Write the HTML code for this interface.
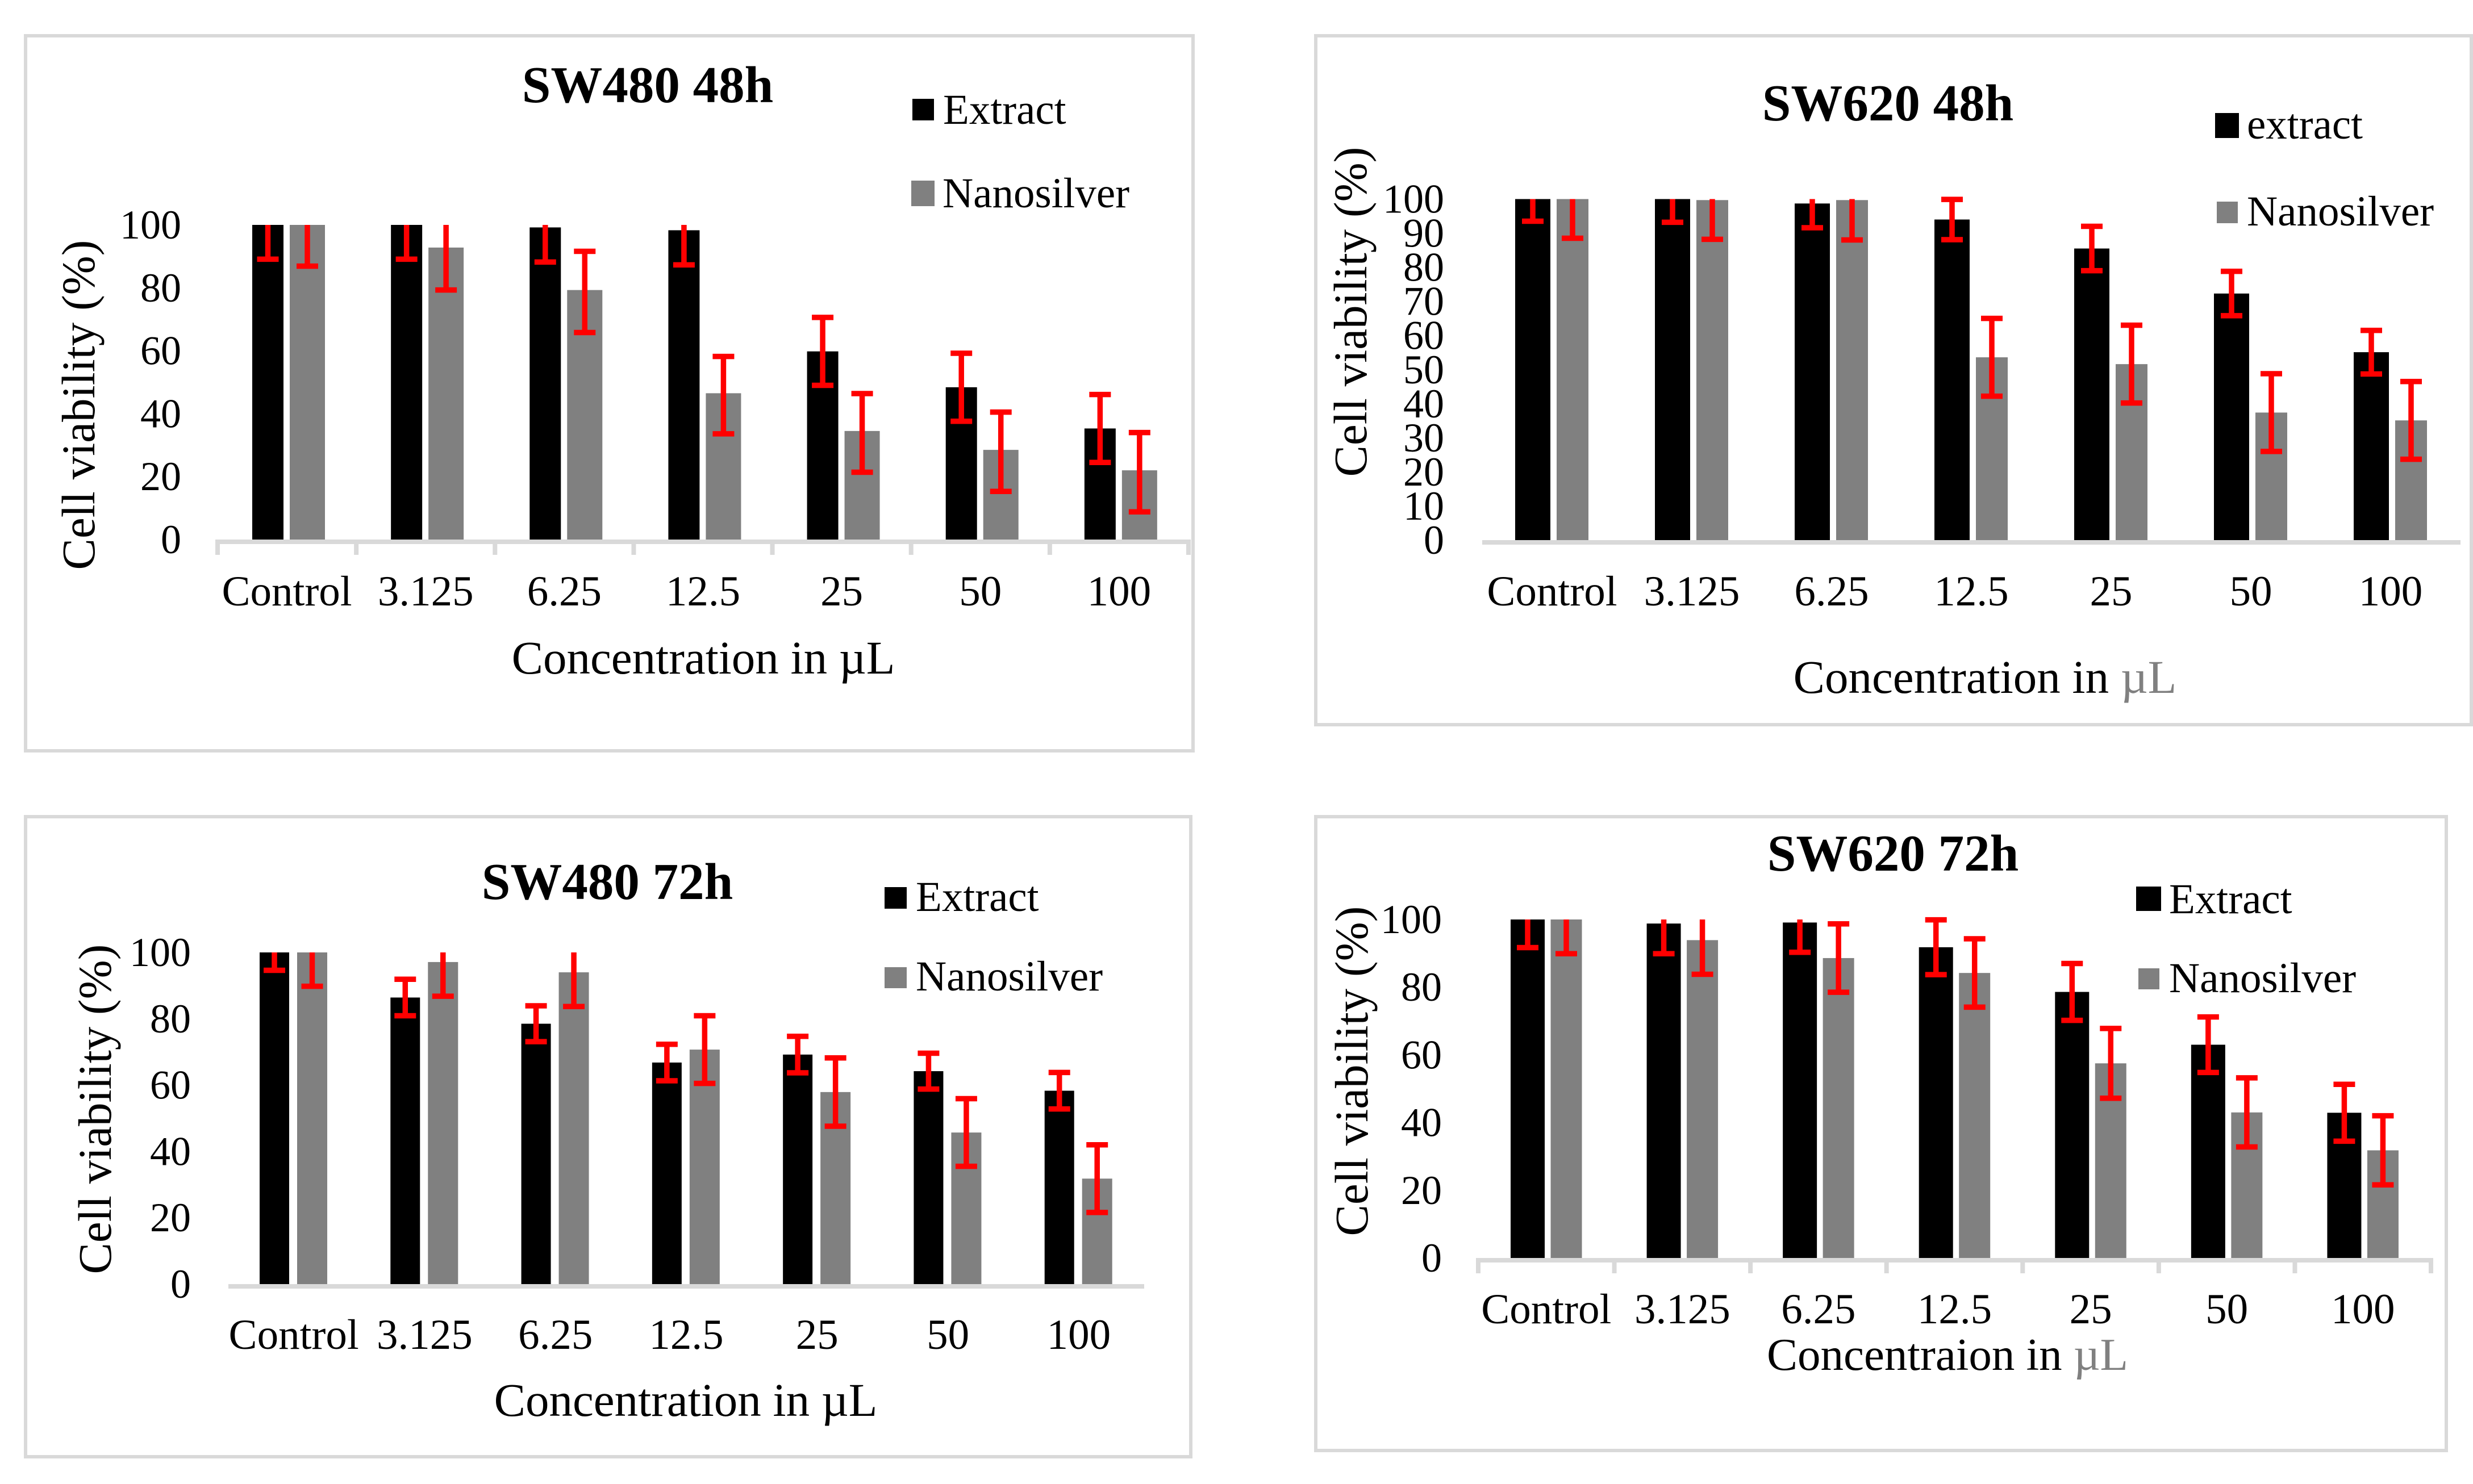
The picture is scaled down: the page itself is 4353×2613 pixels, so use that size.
<!DOCTYPE html>
<html lang="en">
<head>
<meta charset="utf-8">
<title>Cell viability charts</title>
<style>
html,body{margin:0;padding:0;background:#fff}
svg{display:block}
text{font-family:"Liberation Serif","Times New Roman",serif;fill:#000}
.title{font-size:91px;font-weight:bold;text-anchor:middle}
.legend{font-size:75px}
.axt{font-size:83px;text-anchor:middle}
.gr{fill:#808080}
.frame{fill:#fff;stroke:#d9d9d9;stroke-width:6}
</style>
</head>
<body>
<svg id="figure" xmlns="http://www.w3.org/2000/svg" width="4353" height="2613" viewBox="0 0 4353 2613">
<rect x="0" y="0" width="4353" height="2613" fill="#fff"/>

<g id="p1">
<rect class="frame" x="45" y="63" width="2055" height="1259"/>
<text class="title" x="1140" y="180">SW480 48h</text>
<rect x="1606" y="174" width="38" height="38" fill="#000"/>
<text class="legend" x="1660" y="218">Extract</text>
<rect x="1604" y="318" width="41" height="45" fill="#808080"/>
<text class="legend" x="1659" y="365">Nanosilver</text>
<text class="axt" x="1238" y="1186">Concentration in µL</text>
<text class="axt" transform="translate(166 713) rotate(-90)">Cell viability (%)</text>
</g>

<g id="p2">
<rect class="frame" x="2316" y="63" width="2034" height="1213"/>
<text class="title" x="3323" y="212">SW620 48h</text>
<rect x="3899" y="199" width="42" height="44" fill="#000"/>
<text class="legend" x="3955" y="244">extract</text>
<rect x="3902" y="355" width="37" height="38" fill="#808080"/>
<text class="legend" x="3955" y="397">Nanosilver</text>
<text class="axt" x="3494" y="1220">Concentration in <tspan class="gr">µL</tspan></text>
<text class="axt" transform="translate(2405 549) rotate(-90)">Cell viability (%)</text>
</g>

<g id="p3">
<rect class="frame" x="45" y="1438" width="2051" height="1127"/>
<text class="title" x="1069" y="1583">SW480 72h</text>
<rect x="1557" y="1562" width="39" height="38" fill="#000"/>
<text class="legend" x="1612" y="1604">Extract</text>
<rect x="1557" y="1703" width="39" height="37" fill="#808080"/>
<text class="legend" x="1612" y="1744">Nanosilver</text>
<text class="axt" x="1207" y="2493">Concentration in µL</text>
<text class="axt" transform="translate(195 1953) rotate(-90)">Cell viability (%)</text>
</g>

<g id="p4">
<rect class="frame" x="2316" y="1438" width="1990" height="1116"/>
<text class="title" x="3332" y="1533">SW620 72h</text>
<rect x="3760" y="1561" width="44" height="43" fill="#000"/>
<text class="legend" x="3818" y="1608">Extract</text>
<rect x="3764" y="1705" width="37" height="37" fill="#808080"/>
<text class="legend" x="3818" y="1747">Nanosilver</text>
<text class="axt" style="font-size:81px" x="3428" y="2412">Concentraion in <tspan class="gr">µL</tspan></text>
<text class="axt" transform="translate(2407 1886) rotate(-90)">Cell viability (%)</text>
</g>
</svg>

<script>
const categories = ["Control", "3.125", "6.25", "12.5", "25", "50", "100"];
const ticksBy20 = [0, 20, 40, 60, 80, 100];
const ticksBy10 = [0, 10, 20, 30, 40, 50, 60, 70, 80, 90, 100];
const axisMax = 100;

const sw480h48Extract = [100, 100, 99.2, 98.3, 59.8, 48.4, 35.3];
const sw480h48ExtractErr = [10.9, 10.9, 11, 11, 10.8, 10.8, 10.8];
const sw480h48Nano = [100, 92.8, 79.3, 46.5, 34.5, 28.5, 22];
const sw480h48NanoErr = [12.5, 12.9, 12.9, 12.3, 12.5, 12.6, 12.6];

const sw620h48Extract = [100, 100, 98.7, 94, 85.5, 72.3, 55.1];
const sw620h48ExtractErr = [6.5, 6.8, 7.1, 5.9, 6.5, 6.5, 6.4];
const sw620h48Nano = [100, 99.7, 99.7, 53.6, 51.6, 37.4, 35.1];
const sw620h48NanoErr = [11.5, 11.5, 11.7, 11.4, 11.4, 11.4, 11.4];

const sw480h72Extract = [100, 86.4, 78.5, 66.8, 69.2, 64.2, 58.3];
const sw480h72ExtractErr = [5.4, 5.5, 5.4, 5.5, 5.5, 5.4, 5.5];
const sw480h72Nano = [100, 97.1, 94, 70.7, 57.9, 45.7, 31.8];
const sw480h72NanoErr = [10.2, 10.3, 10.3, 10.2, 10.3, 10.2, 10.2];

const sw620h72Extract = [100, 98.8, 99.1, 91.8, 78.6, 63, 42.9];
const sw620h72ExtractErr = [8.3, 8.9, 8.8, 8.1, 8.4, 8.2, 8.4];
const sw620h72Nano = [100, 93.9, 88.6, 84.2, 57.5, 43, 31.8];
const sw620h72NanoErr = [10.1, 10.1, 10.1, 10.1, 10.3, 10.2, 10.2];

const NS = "http://www.w3.org/2000/svg";

function make(parent, tag, attrs, text) {
  const el = document.createElementNS(NS, tag);
  for (const k in attrs) el.setAttribute(k, attrs[k]);
  if (text !== undefined) el.textContent = text;
  parent.appendChild(el);
  return el;
}

function drawBars(g, values, off, width, color, xBand, yScale) {
  values.forEach(function (v, i) {
    const left = xBand(i) + off;
    const top = yScale(v);
    const bar = make(g, "rect", { x: left, y: top, width: width, height: yScale(0) - top, fill: color });
    
    
  });
}

function drawErrors(g, values, errors, shift, off, width, xBand, yScale) {
  values.forEach(function (v, i) {
    const cx = xBand(i) + off + width / 2;
    const hi = v + shift + errors[i];
    const lo = v + shift - errors[i];
    const stem = make(g, "line", { x1: cx, x2: cx, y1: yScale(Math.min(hi, axisMax)), y2: yScale(lo), stroke: "#ff0000", "stroke-width": 9.5 });
    
    
    const lowCap = make(g, "line", { x1: cx - 19, x2: cx + 19, y1: yScale(lo), y2: yScale(lo), stroke: "#ff0000", "stroke-width": 9.5 });
    
    
    if (hi <= axisMax) {
      const highCap = make(g, "line", { x1: cx - 19, x2: cx + 19, y1: yScale(hi), y2: yScale(hi), stroke: "#ff0000", "stroke-width": 9.5 });
      
      
    }
  });
}

function drawChart(cfg) {
  const g = document.getElementById(cfg.id);
  const band = (cfg.x1 - cfg.x0) / categories.length;
  const xBand = function (i) { return cfg.x0 + band * i; };
  const yScale = function (v) { return cfg.y0 - (cfg.y0 - cfg.y100) * v / axisMax; };

  const axis = make(g, "rect", { x: cfg.x0, y: cfg.y0, width: cfg.x1 - cfg.x0, height: 8, fill: "#d9d9d9" });
  
  

  if (cfg.tickMarks) {
    for (let i = 0; i <= categories.length; i++) {
      const t = make(g, "rect", { x: xBand(i) - 4, y: cfg.y0, width: 8, height: 27, fill: "#d9d9d9" });
      
      
    }
  }

  cfg.yTicks.forEach(function (v) {
    const lab = make(g, "text", { x: cfg.tickRight, y: yScale(v) + 24, "text-anchor": "end", "font-size": 72 }, String(v));
    
    
  });

  categories.forEach(function (c, i) {
    const lab = make(g, "text", { x: xBand(i) + band / 2, y: cfg.catBase, "text-anchor": "middle", "font-size": 75 }, c);
    
    
  });

  drawBars(g, cfg.extract, cfg.bOff, cfg.bW, "#000000", xBand, yScale);
  drawBars(g, cfg.nano, cfg.gOff, cfg.gW, "#808080", xBand, yScale);
  drawErrors(g, cfg.extract, cfg.extractErr, 0, cfg.bOff, cfg.bW, xBand, yScale);
  drawErrors(g, cfg.nano, cfg.nanoErr, cfg.nanoShift, cfg.gOff, cfg.gW, xBand, yScale);
}

drawChart({ id: "p1", extract: sw480h48Extract, extractErr: sw480h48ExtractErr, nano: sw480h48Nano, nanoErr: sw480h48NanoErr, nanoShift: -0.6, yTicks: ticksBy20,
  x0: 383, x1: 2092, y100: 396, y0: 950, bOff: 61, bW: 55, gOff: 127, gW: 62, tickRight: 319, tickMarks: true, catBase: 1066 });
drawChart({ id: "p2", extract: sw620h48Extract, extractErr: sw620h48ExtractErr, nano: sw620h48Nano, nanoErr: sw620h48NanoErr, nanoShift: 0, yTicks: ticksBy10,
  x0: 2609, x1: 4331, y100: 350.5, y0: 951, bOff: 58, bW: 62, gOff: 131, gW: 56, tickRight: 2542, tickMarks: false, catBase: 1066 });
drawChart({ id: "p3", extract: sw480h72Extract, extractErr: sw480h72ExtractErr, nano: sw480h72Nano, nanoErr: sw480h72NanoErr, nanoShift: 0, yTicks: ticksBy20,
  x0: 402, x1: 2014, y100: 1677, y0: 2261, bOff: 55, bW: 52, gOff: 121, gW: 53, tickRight: 336, tickMarks: false, catBase: 2375 });
drawChart({ id: "p4", extract: sw620h72Extract, extractErr: sw620h72ExtractErr, nano: sw620h72Nano, nanoErr: sw620h72NanoErr, nanoShift: 0, yTicks: ticksBy20,
  x0: 2602, x1: 4279, y100: 1619, y0: 2215, bOff: 57, bW: 60, gOff: 127.5, gW: 55, tickRight: 2538, tickMarks: true, catBase: 2330 });
</script>
</body>
</html>
